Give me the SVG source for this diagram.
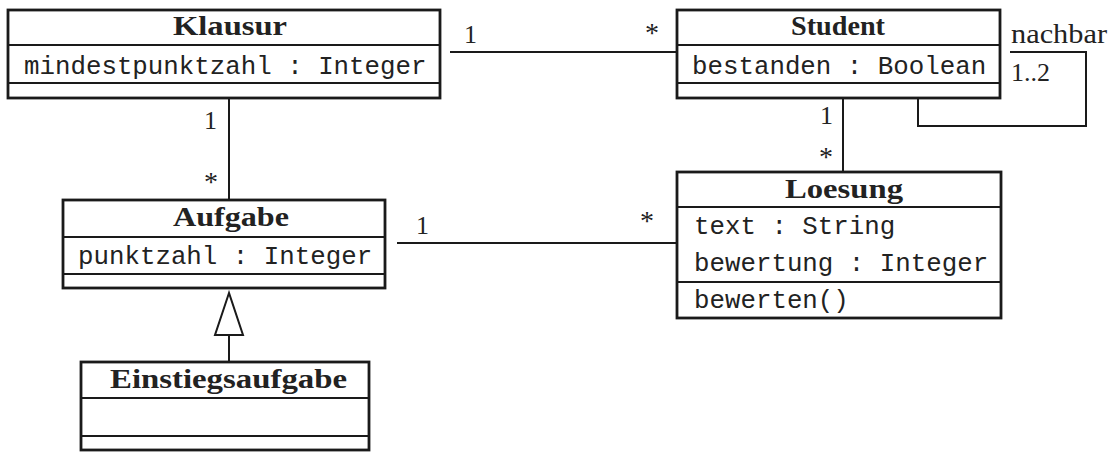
<svg xmlns="http://www.w3.org/2000/svg" width="1113" height="452" viewBox="0 0 1113 452">
<style>
.box{fill:#fff;stroke:#1a1a1a;stroke-width:2.8}
.div{stroke:#1a1a1a;stroke-width:2}
.ttl{font-family:"Liberation Serif","DejaVu Serif",serif;font-weight:bold;font-size:28px;fill:#222}
.att{font-family:"Liberation Mono","DejaVu Sans Mono",monospace;font-size:25.8px;fill:#222}
.lbl{font-family:"Liberation Serif","DejaVu Serif",serif;font-size:26px;fill:#222}
.con{fill:none;stroke:#1a1a1a;stroke-width:2}
</style>
<rect width="1113" height="452" fill="#fff"/>
<g id="connectors">
<line class="con" x1="450" y1="52" x2="677" y2="52"/>
<text class="lbl" x="464" y="43">1</text>
<text class="lbl" x="645" y="42" style="font-size:28px">*</text>
<line class="con" x1="229" y1="98" x2="229" y2="200"/>
<text class="lbl" x="204" y="129">1</text>
<text class="lbl" x="204" y="191" style="font-size:28px">*</text>
<line class="con" x1="843" y1="98" x2="843" y2="172"/>
<text class="lbl" x="820" y="124">1</text>
<text class="lbl" x="819" y="166" style="font-size:28px">*</text>
<line class="con" x1="397" y1="243" x2="676" y2="243"/>
<text class="lbl" x="416" y="234">1</text>
<text class="lbl" x="640" y="230" style="font-size:28px">*</text>
<polyline class="con" points="918,98 918,126 1086,126 1086,52 1010,52"/>
<text class="lbl" x="1011" y="43" textLength="96" lengthAdjust="spacingAndGlyphs" style="font-size:27px">nachbar</text>
<text class="lbl" x="1011" y="81">1..2</text>
<line class="con" x1="229" y1="335" x2="229" y2="362"/>
<polygon class="con" points="229,293 215,335 243,335" fill="#fff"/>
</g>
<g id="Klausur">
<rect class="box" x="8" y="10" width="432" height="88"/>
<line class="div" x1="8" y1="45" x2="440" y2="45"/>
<line class="div" x1="8" y1="83" x2="440" y2="83"/>
<text class="ttl" x="173" y="35" textLength="114" lengthAdjust="spacingAndGlyphs">Klausur</text>
<text class="att" x="24" y="74">mindestpunktzahl : Integer</text>
</g>
<g id="Student">
<rect class="box" x="677" y="10" width="323" height="88"/>
<line class="div" x1="677" y1="45" x2="1000" y2="45"/>
<line class="div" x1="677" y1="83" x2="1000" y2="83"/>
<text class="ttl" x="791" y="35" textLength="94" lengthAdjust="spacingAndGlyphs">Student</text>
<text class="att" x="692" y="74">bestanden : Boolean</text>
</g>
<g id="Aufgabe">
<rect class="box" x="63" y="200" width="322" height="88"/>
<line class="div" x1="63" y1="237" x2="385" y2="237"/>
<line class="div" x1="63" y1="274" x2="385" y2="274"/>
<text class="ttl" x="173" y="226" textLength="116" lengthAdjust="spacingAndGlyphs">Aufgabe</text>
<text class="att" x="78" y="264">punktzahl : Integer</text>
</g>
<g id="Loesung">
<rect class="box" x="677" y="172" width="324" height="146"/>
<line class="div" x1="677" y1="207" x2="1001" y2="207"/>
<line class="div" x1="677" y1="282" x2="1001" y2="282"/>
<text class="ttl" x="785" y="198" textLength="118" lengthAdjust="spacingAndGlyphs">Loesung</text>
<text class="att" x="694" y="234">text : String</text>
<text class="att" x="694" y="271">bewertung : Integer</text>
<text class="att" x="694" y="308">bewerten()</text>
</g>
<g id="Einstiegsaufgabe">
<rect class="box" x="81" y="362" width="288" height="88"/>
<line class="div" x1="81" y1="398" x2="369" y2="398"/>
<line class="div" x1="81" y1="436" x2="369" y2="436"/>
<text class="ttl" x="110" y="388" textLength="237" lengthAdjust="spacingAndGlyphs">Einstiegsaufgabe</text>
</g>
</svg>
